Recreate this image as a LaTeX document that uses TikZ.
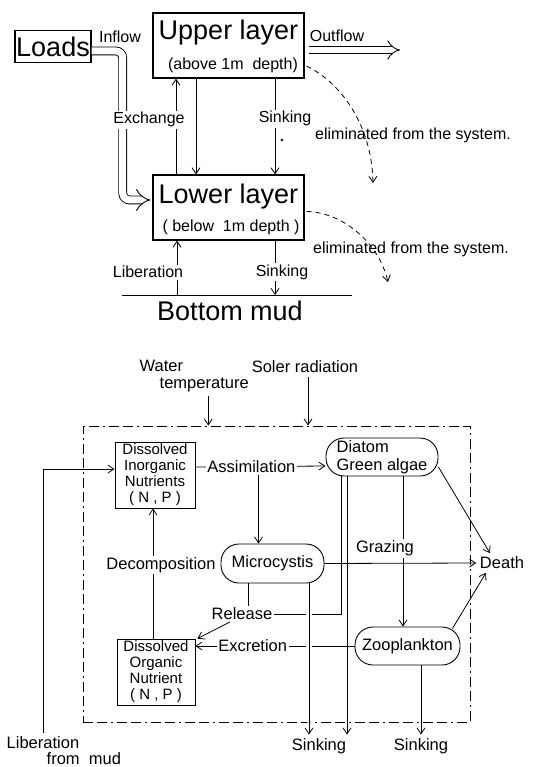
\documentclass[tikz,border=0pt]{standalone}
\usepackage{fontspec}
\setmainfont{Liberation Sans}
\usetikzlibrary{arrows.meta}
\newcommand{\fsbig}{\fontsize{27}{31}\selectfont}
\newcommand{\fstop}{\fontsize{16}{18}\selectfont}
\newcommand{\fsmid}{\fontsize{16.5}{17.5}\selectfont}
\newcommand{\fsbox}{\fontsize{15}{16}\selectfont}

\begin{document}
\begin{tikzpicture}[x=1pt,y=-1pt,line width=0.8pt,>={Straight Barb[length=6pt,width=8pt]},
  box/.style={draw,line width=1pt,inner sep=0pt},
  pill/.style={draw,line width=0.9pt,rounded corners=18pt,inner sep=0pt},
  lbl/.style={fill=white,inner sep=1.5pt,font=\fsmid},
  tlbl/.style={fill=white,inner sep=1.5pt,font=\fstop},
  dbl/.style={double,double distance=#1,line width=0.9pt,-{Implies}},
  frame/.style={draw,line width=0.9pt,dash pattern=on 10pt off 4pt on 10pt off 4pt on 2pt off 4pt}]
  \useasboundingbox (0,0) rectangle (542,767);
  % two layer model
  \node[box,line width=1.4pt,minimum width=76pt,minimum height=32pt,font=\fsbig] (loads) at (53,46.5) {Loads};
  \node[box,line width=1.2pt,minimum width=151pt,minimum height=65pt] (upper) at (228.5,45.5) {};
  \node[font=\fsbig] at ([yshift=12.5pt]upper.center) {Upper layer};
  \node[font=\fstop] at ([xshift=4.5pt,yshift=-19.5pt]upper.center) {(above 1m~~depth)};
  \node[box,line width=1.2pt,minimum width=151pt,minimum height=65pt] (lower) at (228.5,207.5) {};
  \node[font=\fsbig] at ([yshift=10.5pt]lower.center) {Lower layer};
  \node[font=\fstop] at ([xshift=2.5pt,yshift=-19.5pt]lower.center) {( below~~1m depth )};
  % inflow / outflow
  \draw[dbl=7pt,rounded corners=7pt] ([yshift=-4.5pt]loads.east) -- ++(31,0) -- ++(0,149) -- ([xshift=-2pt,yshift=7.5pt]lower.west);
  \node[font=\fstop] at (120,37) {Inflow};
  \coordinate (outend) at (400,50);
  \draw[dbl=6pt] ([xshift=4pt,yshift=-4.5pt]upper.east) -- (outend);
  \node[font=\fstop] at (337,36) {Outflow};
  % exchange and sinking
  \draw[->] ([xshift=-52.5pt]lower.north) -- node[tlbl,pos=0.57,xshift=-27pt]{Exchange} ([xshift=-52.5pt]upper.south);
  \draw[->] ([xshift=-32.5pt]upper.south) -- ([xshift=-32.5pt]lower.north);
  \draw[->] ([xshift=46.5pt]upper.south) -- node[tlbl,pos=0.42,xshift=10pt]{Sinking} ([xshift=46.5pt]lower.north);
  \fill (282,140) circle (1.3pt);
  % eliminated
  \coordinate (elimA) at (373,183);
  \coordinate (elimB) at (388,282);
  \draw[->,dash pattern=on 5pt off 4pt] ([xshift=2pt,yshift=-20.5pt]upper.east) .. controls (345,85) and (372,130) .. (elimA);
  \node[font=\fstop] at (413,135) {eliminated from the system.};
  \draw[->,dash pattern=on 5pt off 4pt] ([xshift=2pt,yshift=-4pt]lower.east) .. controls (340,212) and (378,240) .. (elimB);
  \node[font=\fstop] at (411,249) {eliminated from the system.};
  % bottom mud
  \coordinate (mudL) at (122,295);
  \coordinate (mudR) at (352,295);
  \draw (mudL) -- (mudR);
  \node[font=\fsbig] at (230,311) {Bottom mud};
  \draw[->] ([xshift=-51.5pt]lower.south |- mudL) -- node[tlbl,pos=0.42,xshift=-29pt]{Liberation} ([xshift=-51.5pt]lower.south);
  \draw[->] ([xshift=46.5pt]lower.south) -- node[tlbl,pos=0.58,xshift=7pt]{Sinking} ([xshift=46.5pt]lower.south |- mudL);

  % ecosystem model
  \node[frame,minimum width=387pt,minimum height=296pt] (sys) at (276.5,574) {};
  \node[font=\fsmid,align=left,anchor=west] (wt) at (136,376) {Water\\\hspace*{20pt}temperature};
  \node[font=\fsmid] (sun) at (305,367) {Soler radiation};
  \draw[->] ([xshift=14pt]wt.south) -- ([xshift=14pt]wt.south |- sys.north);
  \draw[->] ([xshift=3pt]sun.south) -- ([xshift=3pt]sun.south |- sys.north);
  \node[box,line width=0.8pt,minimum width=80pt,minimum height=66pt,font=\fsbox,align=center] (din) at (155,475) {Dissolved\\Inorganic\\Nutrients\\( N , P )};
  \node[box,line width=0.8pt,minimum width=78pt,minimum height=66pt,font=\fsbox,align=center] (don) at (156,672) {Dissolved\\Organic\\Nutrient\\( N , P )};
  \node[pill,minimum width=112pt,minimum height=38pt,font=\fsmid,align=left] (diatom) at (382,457) {Diatom\\Green algae};
  \node[pill,minimum width=103pt,minimum height=39pt,font=\fsmid] (micro) at (272.5,563.5) {Microcystis};
  \node[pill,minimum width=105pt,minimum height=38pt,font=\fsmid] (zoo) at (407.5,646) {Zooplankton};
  \node[font=\fsmid] (death) at (502,563) {Death};
  \node[font=\fsmid] (sink1) at (319,746) {Sinking};
  \node[font=\fsmid] (sink2) at (421,746) {Sinking};
  \node[font=\fsmid,align=left,anchor=west] (libmud) at (3,751) {Liberation\\[-1.5pt]\hspace*{40pt}from~~mud};
  \node[font=\fsmid,inner sep=1.5pt] (release) at (242,614) {Release};
  % connectors
  \draw[->] ([xshift=40pt]libmud.north west) |- ([yshift=6pt]din.west);
  \draw[->] ([yshift=8pt]din.east) -- coordinate[pos=0.485] (split) node[lbl,pos=0.43]{Assimilation} ([yshift=-9pt]diatom.west);
  \draw[->] ([yshift=-8pt]split) -- (split |- micro.north);
  \draw[->] ([xshift=-3pt]don.north) -- node[lbl,pos=0.565,xshift=8pt]{Decomposition} ([xshift=-2pt]din.south);
  \draw ([xshift=-24.5pt]micro.south) -- ([xshift=-24.5pt]micro.south |- release.north);
  \draw ([xshift=-41pt]diatom.south) |- (release.east);
  \draw[->] ([xshift=-12pt]release.south) -- ([xshift=2pt]don.north east);
  \draw[->] (zoo.west) -- node[lbl,pos=0.64]{Excretion} ([yshift=26pt]don.east);
  \draw[->] ([xshift=-35pt]diatom.south) -- ([xshift=-35pt]diatom.south |- sink1.north);
  \draw[->] (micro.east) -- (death.west);
  \draw[->] ([xshift=21pt]diatom.south) -- node[lbl,pos=0.48,xshift=-18pt]{Grazing} ([xshift=-4.5pt]zoo.north);
  \draw[->,preaction={draw,white,line width=6pt,shorten <=4pt,shorten >=10pt}] ([xshift=36.5pt]micro.south) -- ([xshift=36.5pt]micro.south |- sink1.north);
  \draw[->] ([xshift=13.5pt]zoo.south) -- ([xshift=13.5pt]zoo.south |- sink2.north);
  \draw[->] ([yshift=-10pt]diatom.east) -- ([xshift=-12pt]death.north);
  \draw[->] ([xshift=-8pt,yshift=-2pt]zoo.north east) -- ([xshift=-16pt]death.south);
\end{tikzpicture}
\end{document}
